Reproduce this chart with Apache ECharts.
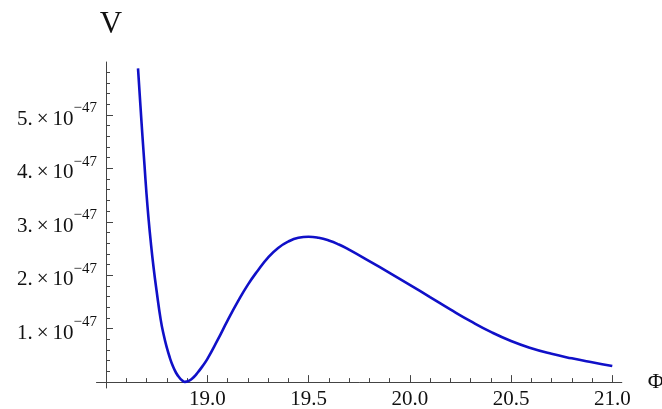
<!DOCTYPE html>
<html>
<head>
<meta charset="utf-8">
<script src="https://cdn.jsdelivr.net/npm/echarts@6/dist/echarts.min.js"></script>
<style>
  html, body { margin: 0; padding: 0; background: #fff; }
  #chart { width: 662px; height: 409px; }
</style>
</head>
<body>
<div id="chart"></div>
<script>
// Potential V(Φ), in units of 1e-47
const phi = [18.658, 18.67, 18.68, 18.69, 18.70, 18.71, 18.72, 18.735, 18.75, 18.77,
             18.785, 18.80, 18.815, 18.83, 18.845, 18.86, 18.875, 18.89, 18.905, 18.92,
             18.935, 18.95, 18.975, 19.00, 19.05, 19.10, 19.15, 19.20, 19.25, 19.30,
             19.35, 19.40, 19.45, 19.50, 19.55, 19.60, 19.65, 19.70, 19.80, 19.90,
             20.00, 20.10, 20.20, 20.30, 20.40, 20.50, 20.60, 20.70, 20.80, 20.90, 21.00];
const potential = [5.87, 5.17, 4.60, 4.06, 3.52, 3.06, 2.66, 2.14, 1.70, 1.17,
                   0.88, 0.65, 0.46, 0.30, 0.18, 0.095, 0.035, 0.005, 0.015, 0.05,
                   0.10, 0.165, 0.29, 0.43, 0.78, 1.15, 1.50, 1.82, 2.09, 2.33,
                   2.51, 2.63, 2.70, 2.72, 2.70, 2.65, 2.575, 2.48, 2.265, 2.045,
                   1.82, 1.59, 1.36, 1.14, 0.94, 0.77, 0.635, 0.53, 0.445, 0.37, 0.30];

// Axis ticks
const xMajorTicks = [19.0, 19.5, 20.0, 20.5, 21.0];
const xMinorTicks = [18.6, 18.7, 18.8, 18.9, 19.1, 19.2, 19.3, 19.4, 19.6, 19.7, 19.8, 19.9,
                     20.1, 20.2, 20.3, 20.4, 20.6, 20.7, 20.8, 20.9];
const yMajorTicks = [1, 2, 3, 4, 5];
const yMinorTicks = [0.2, 0.4, 0.6, 0.8, 1.2, 1.4, 1.6, 1.8, 2.2, 2.4, 2.6, 2.8,
                     3.2, 3.4, 3.6, 3.8, 4.2, 4.4, 4.6, 4.8, 5.2, 5.4, 5.6, 5.8];
const yExponent = '−47';

const serif = 'Liberation Serif, Times New Roman, serif';
const axisColor = '#444';
const X_MIN = 18.453, X_MAX = 21.047, Y_MIN = -0.11, Y_MAX = 5.99;
const gridBox = { left: 96.5, top: 62, width: 525.3, height: 326, outerBoundsMode: 'none', containLabel: false };

const chart = echarts.init(document.getElementById('chart'), null, { renderer: 'canvas' });

chart.setOption({
  backgroundColor: '#fff',
  animation: false,
  grid: [Object.assign({}, gridBox), Object.assign({}, gridBox)],
  xAxis: [
    {
      type: 'value', gridIndex: 0, min: X_MIN, max: X_MAX,
      axisLine: { show: true, onZero: true, lineStyle: { color: axisColor, width: 1 } },
      axisTick: { show: true, inside: true, length: 7, customValues: xMajorTicks, lineStyle: { color: axisColor } },
      axisLabel: {
        show: true, customValues: xMajorTicks, margin: 1,
        fontFamily: serif, fontSize: 21, color: '#111',
        formatter: v => v.toFixed(1)
      },
      splitLine: { show: false },
      name: 'Φ', nameLocation: 'end', nameGap: 26,
      nameTextStyle: { fontFamily: serif, fontSize: 22, color: '#111', verticalAlign: 'middle' }
    },
    {
      type: 'value', gridIndex: 1, min: X_MIN, max: X_MAX,
      axisLine: { show: false, onZero: true },
      axisTick: { show: true, inside: true, length: 4, customValues: xMinorTicks, lineStyle: { color: axisColor } },
      axisLabel: { show: false },
      splitLine: { show: false }
    }
  ],
  yAxis: [
    {
      type: 'value', gridIndex: 0, min: Y_MIN, max: Y_MAX, offset: -9.5,
      axisLine: { show: true, onZero: false, lineStyle: { color: axisColor, width: 1 } },
      axisTick: { show: true, inside: true, length: 7, customValues: yMajorTicks, lineStyle: { color: axisColor } },
      axisLabel: {
        show: true, customValues: yMajorTicks, margin: 9, padding: [1, 0, 0, 0],
        formatter: v => `{m|${v}.}{x|×}{m|10}{e|${yExponent}}`,
        rich: {
          m: { fontFamily: serif, fontSize: 21, lineHeight: 29, verticalAlign: 'bottom', color: '#111' },
          x: { fontFamily: serif, fontSize: 21, lineHeight: 29, verticalAlign: 'bottom', color: '#111', padding: [0, 4, 0, 4] },
          e: { fontFamily: serif, fontSize: 15, lineHeight: 15, verticalAlign: 'top', color: '#111' }
        }
      },
      splitLine: { show: false },
      name: 'V', nameLocation: 'end', nameGap: 22,
      nameTextStyle: { fontFamily: serif, fontSize: 31, color: '#111', padding: [0, 0, 0, 10] }
    },
    {
      type: 'value', gridIndex: 1, min: Y_MIN, max: Y_MAX, offset: -9.5,
      axisLine: { show: false, onZero: false },
      axisTick: { show: true, inside: true, length: 4, customValues: yMinorTicks, lineStyle: { color: axisColor } },
      axisLabel: { show: false },
      splitLine: { show: false }
    }
  ],
  series: [
    {
      type: 'line', xAxisIndex: 0, yAxisIndex: 0,
      data: phi.map((p, i) => [p, potential[i]]),
      showSymbol: false, smooth: 0.5,
      lineStyle: { color: '#1010c8', width: 2.6 },
      clip: false
    }
  ]
});
</script>
</body>
</html>
